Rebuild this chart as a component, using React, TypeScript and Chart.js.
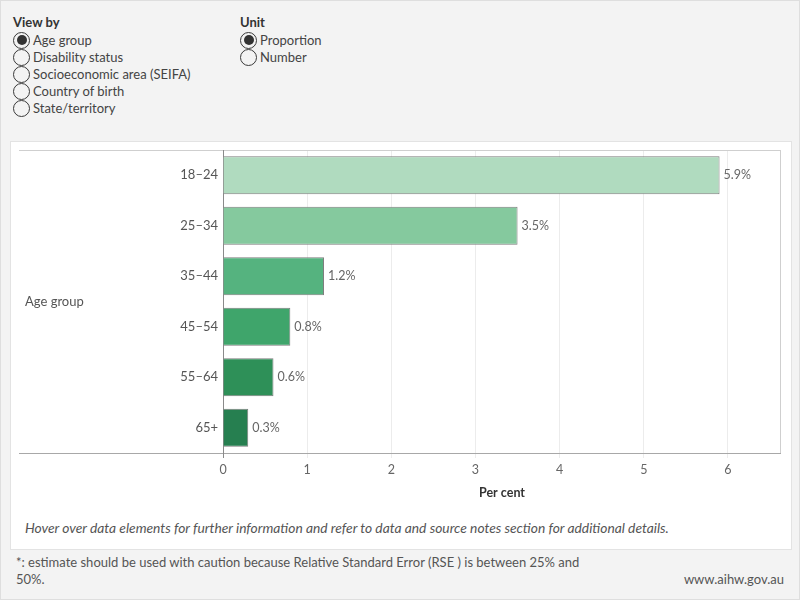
import React, { useEffect, useRef } from 'react';
import { Chart, registerables } from 'chart.js';

Chart.register(...registerables);

const FONT = 'Lato, "Open Sans", sans-serif';

const categories = ['18–24', '25–34', '35–44', '45–54', '55–64', '65+'];
const values = [5.9, 3.5, 1.2, 0.8, 0.6, 0.3];
const barColors = ['#b0dbbf', '#85c99e', '#55b37f', '#3fa56b', '#2e9058', '#267f50'];
const xMax = 6.63;
const yAxisTitle = 'Age group';
const xAxisTitle = 'Per cent';

const viewByOptions = ['Age group', 'Disability status', 'Socioeconomic area (SEIFA)', 'Country of birth', 'State/territory'];
const unitOptions = ['Proportion', 'Number'];

const framePlugin = {
  id: 'frame',
  beforeDatasetsDraw(chart: any) {
    const { ctx, chartArea } = chart;
    const { left, right, top, bottom } = chartArea;
    ctx.save();
    ctx.lineWidth = 1;
    ctx.strokeStyle = '#cfcfcf';
    ctx.beginPath();
    ctx.moveTo(8, top + 0.5);
    ctx.lineTo(right, top + 0.5);
    ctx.moveTo(right - 0.5, top);
    ctx.lineTo(right - 0.5, bottom);
    ctx.stroke();
    ctx.strokeStyle = '#a8a8a8';
    ctx.beginPath();
    ctx.moveTo(8, bottom + 0.5);
    ctx.lineTo(right, bottom + 0.5);
    ctx.stroke();
    ctx.strokeStyle = '#8a8a8a';
    ctx.beginPath();
    ctx.moveTo(left + 0.5, top);
    ctx.lineTo(left + 0.5, bottom + 5);
    ctx.stroke();
    ctx.fillStyle = '#555';
    ctx.font = `13px ${FONT}`;
    ctx.textAlign = 'left';
    ctx.textBaseline = 'middle';
    ctx.fillText(yAxisTitle, 14, (top + bottom) / 2);
    ctx.restore();
  },
};

const labelPlugin = {
  id: 'valueLabels',
  afterDatasetsDraw(chart: any) {
    const { ctx } = chart;
    const meta = chart.getDatasetMeta(0);
    ctx.save();
    ctx.fillStyle = '#666';
    ctx.font = `12.5px ${FONT}`;
    ctx.textAlign = 'left';
    ctx.textBaseline = 'middle';
    meta.data.forEach((el: any, i: number) => {
      ctx.fillText(`${values[i].toFixed(1)}%`, el.x + 4, el.y);
    });
    ctx.restore();
  },
};

function Radio({ x, y, label, checked }: { x: number; y: number; label: string; checked: boolean }) {
  return (
    <div style={{ position: 'absolute', left: x, top: y - 9, height: 18, display: 'flex', alignItems: 'center' }}>
      <div
        style={{
          width: 17,
          height: 17,
          boxSizing: 'border-box',
          borderRadius: '50%',
          border: '1px solid #3a3a3a',
          display: 'flex',
          alignItems: 'center',
          justifyContent: 'center',
        }}
      >
        {checked && <div style={{ width: 10, height: 10, borderRadius: '50%', background: '#333' }} />}
      </div>
      <span style={{ marginLeft: 3, fontSize: 13, color: '#444', whiteSpace: 'nowrap' }}>{label}</span>
    </div>
  );
}

export default function App() {
  const ref = useRef<HTMLCanvasElement>(null);

  useEffect(() => {
    const chart = new Chart(ref.current as HTMLCanvasElement, {
      type: 'bar',
      data: {
        labels: categories,
        datasets: [
          {
            data: values,
            backgroundColor: barColors,
            borderColor: '#7d7d7d',
            borderWidth: 1,
            categoryPercentage: 1,
            barPercentage: 0.75,
          },
        ],
      },
      options: {
        indexAxis: 'y',
        responsive: false,
        maintainAspectRatio: false,
        animation: false,
        layout: { padding: { top: 8, right: 10, left: 0, bottom: 0 } },
        plugins: { legend: { display: false }, tooltip: { enabled: false } },
        scales: {
          x: {
            min: 0,
            max: xMax,
            afterBuildTicks: (s: any) => {
              s.ticks = s.ticks.filter((t: any) => Number.isInteger(t.value));
            },
            ticks: { stepSize: 1, color: '#666', font: { family: FONT, size: 12.5 }, padding: 4 },
            grid: { color: '#ececec', tickLength: 5 },
            border: { display: false },
            title: {
              display: true,
              text: xAxisTitle,
              color: '#333',
              font: { family: FONT, size: 12.5, weight: 'bold' },
              padding: { top: 0, bottom: 12 },
            },
            afterFit: (s: any) => {
              s.height = 59;
            },
          },
          y: {
            ticks: { color: '#555', font: { family: FONT, size: 13 }, padding: 5 },
            grid: { display: false, drawTicks: false },
            border: { display: false },
            afterFit: (s: any) => {
              s.width = 212;
              s.paddingTop = 0;
              s.paddingBottom = 0;
            },
          },
        },
      } as any,
      plugins: [framePlugin, labelPlugin],
    });
    return () => chart.destroy();
  }, []);

  return (
    <div
      style={{
        position: 'absolute',
        left: 0,
        top: 0,
        width: 800,
        height: 600,
        boxSizing: 'border-box',
        border: '1px solid #dedede',
        background: '#f3f3f3',
        fontFamily: FONT,
        overflow: 'hidden',
      }}
    >
      <div style={{ position: 'absolute', left: 12, top: 13, fontSize: 13, fontWeight: 'bold', color: '#333' }}>View by</div>
      {viewByOptions.map((o, i) => (
        <Radio key={o} x={12} y={39 + i * 17} label={o} checked={i === 0} />
      ))}
      <div style={{ position: 'absolute', left: 239, top: 13, fontSize: 13, fontWeight: 'bold', color: '#333' }}>Unit</div>
      {unitOptions.map((o, i) => (
        <Radio key={o} x={239} y={39 + i * 17} label={o} checked={i === 0} />
      ))}

      <div
        style={{
          position: 'absolute',
          left: 9,
          top: 140,
          width: 780,
          height: 407,
          background: '#fff',
          border: '1px solid #e3e3e3',
        }}
      />
      <canvas ref={ref} width={780} height={370} style={{ position: 'absolute', left: 10, top: 141, width: 780, height: 370 }} />
      <div
        style={{
          position: 'absolute',
          left: 24,
          top: 518,
          fontSize: 13.8,
          fontStyle: 'italic',
          color: '#555',
          whiteSpace: 'nowrap',
        }}
      >
        Hover over data elements for further information and refer to data and source notes section for additional details.
      </div>
      <div style={{ position: 'absolute', left: 15, top: 553, fontSize: 13, color: '#555', lineHeight: '17px' }}>
        *: estimate should be used with caution because Relative Standard Error (RSE ) is between 25% and
        <br />
        50%.
      </div>
      <div style={{ position: 'absolute', right: 15, top: 570, fontSize: 13, color: '#555', lineHeight: '17px' }}>
        www.aihw.gov.au
      </div>
    </div>
  );
}
